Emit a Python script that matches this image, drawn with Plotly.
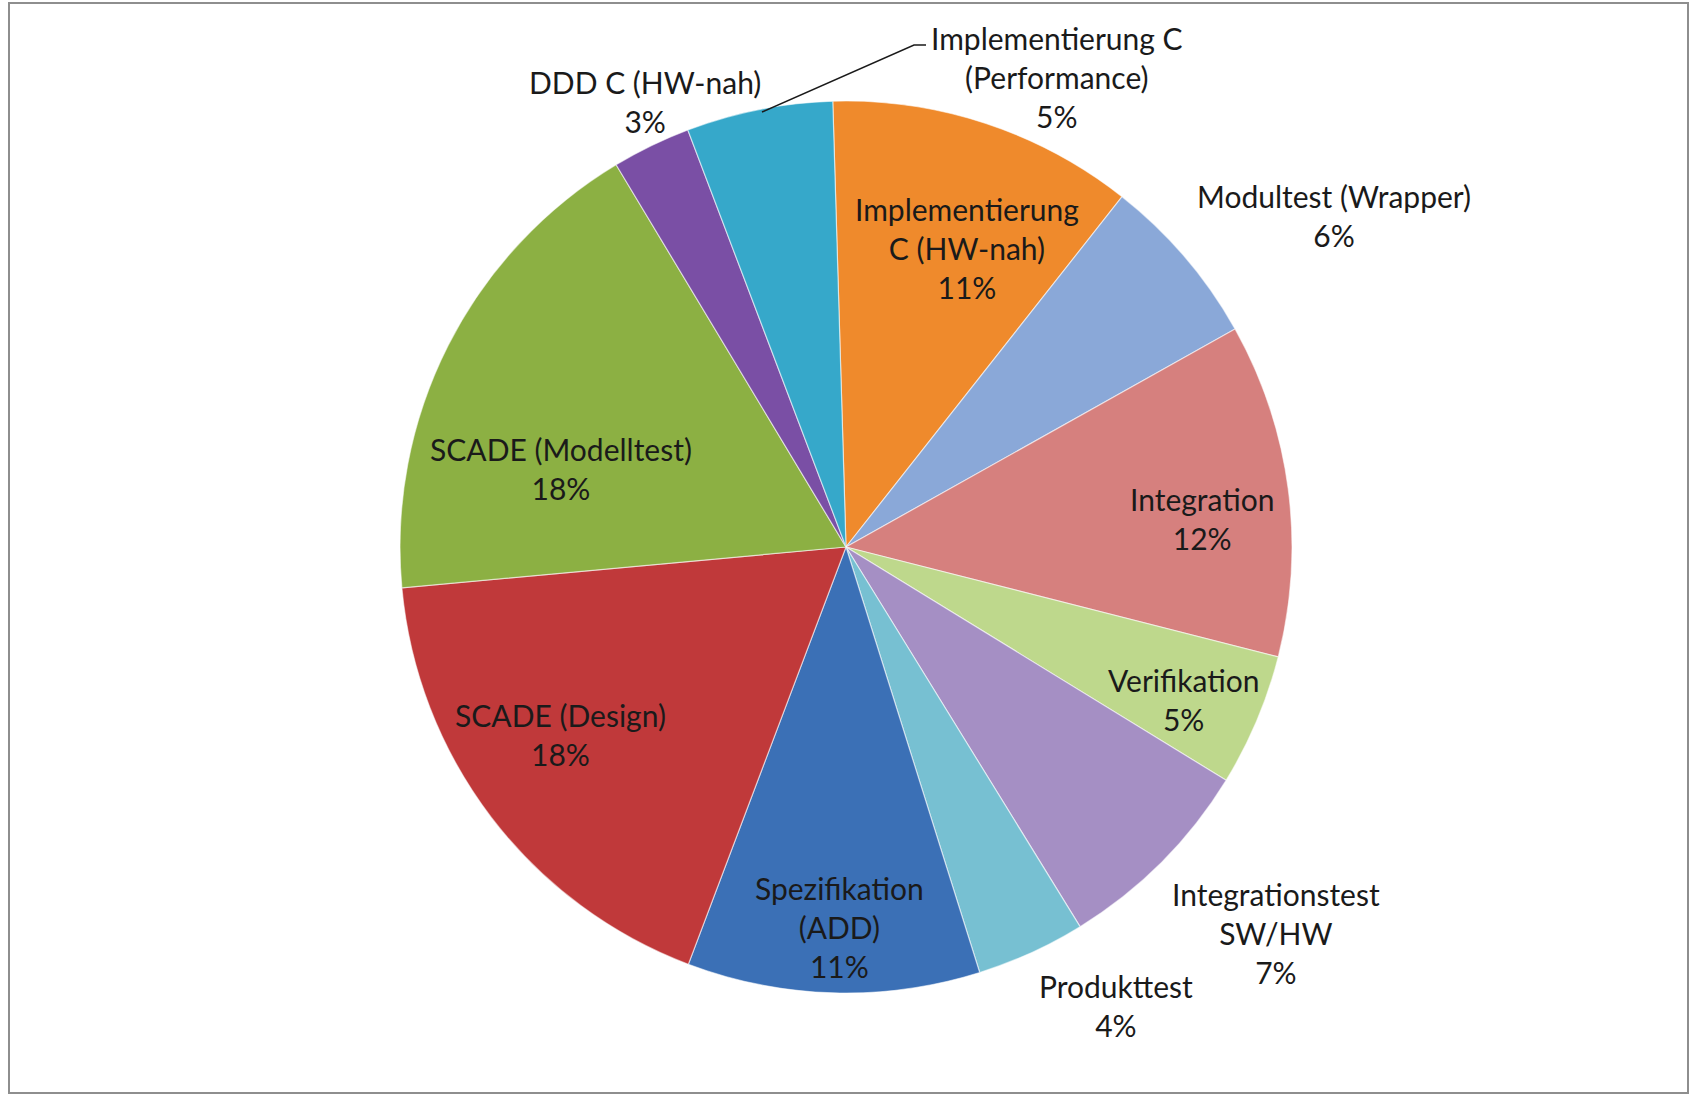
import plotly.graph_objects as go

# Slices, clockwise from (just left of) 12 o'clock
labels = [
    "Implementierung C (HW-nah)",
    "Modultest (Wrapper)",
    "Integration",
    "Verifikation",
    "Integrationstest SW/HW",
    "Produkttest",
    "Spezifikation (ADD)",
    "SCADE (Design)",
    "SCADE (Modelltest)",
    "DDD C (HW-nah)",
    "Implementierung C (Performance)",
]
values = [11.1, 6.25, 12.1, 4.8, 7.45, 3.95, 10.6, 17.8, 17.85, 2.85, 5.3]
colors = ["#EF8A2C", "#8AA8D8", "#D6807E", "#BED88C", "#A58FC4", "#77C0D2",
          "#3B70B6", "#C0393A", "#8CB043", "#7A4FA5", "#36A8CA"]

# label text as broken over lines in the chart
label_lines = [
    "Implementierung<br>C (HW-nah)",
    "Modultest (Wrapper)",
    "Integration",
    "Verifikation",
    "Integrationstest<br>SW/HW",
    "Produkttest",
    "Spezifikation<br>(ADD)",
    "SCADE (Design)",
    "SCADE (Modelltest)",
    "DDD C (HW-nah)",
    "Implementierung C<br>(Performance)",
]
# label block centres in pixels (x, y from top)
label_pos = [(967, 248), (1334, 215), (1202, 518), (1183, 699), (1276, 933),
             (1116, 1005), (839, 927), (560, 734), (561, 468), (645, 101), (1057, 77)]

W, H = 1691, 1094
cx, cy, r = 846, 547, 446

fig = go.Figure(go.Pie(
    labels=labels,
    values=values,
    sort=False,
    direction="clockwise",
    rotation=-1.7,
    marker=dict(colors=colors, line=dict(color="rgba(255,255,255,0.55)", width=1.2)),
    textinfo="none",
    hoverinfo="label+percent",
    showlegend=False,
    domain=dict(x=[(cx - r) / W, (cx + r) / W], y=[(H - cy - r) / H, (H - cy + r) / H]),
))

total = sum(values)
annotations = []
for lab, v, (px, py) in zip(label_lines, values, label_pos):
    pct = int(v / total * 100 + 0.5)
    annotations.append(dict(
        x=px / W, y=1 - py / H, xref="paper", yref="paper",
        xanchor="center", yanchor="middle", showarrow=False,
        text=f"{lab}<br>{pct}%",
        font=dict(family="Lato, 'Open Sans', sans-serif", size=30, color="#1a1a1a"),
    ))

fig.update_layout(
    width=W, height=H,
    margin=dict(l=0, r=0, t=0, b=0),
    paper_bgcolor="white",
    plot_bgcolor="white",
    annotations=annotations,
    shapes=[
        # chart frame
        dict(type="rect", xref="paper", yref="paper",
             x0=9 / W, x1=1688 / W, y0=1 - 1093 / H, y1=1 - 3 / H,
             line=dict(color="#8e8e8e", width=2)),
        # leader line for the Performance label
        dict(type="path", xref="paper", yref="paper",
             path=f"M {926 / W} {1 - 45 / H} L {914 / W} {1 - 45 / H} L {762 / W} {1 - 112 / H}",
             line=dict(color="#1a1a1a", width=1.5)),
    ],
)

fig.write_html("out.html")
